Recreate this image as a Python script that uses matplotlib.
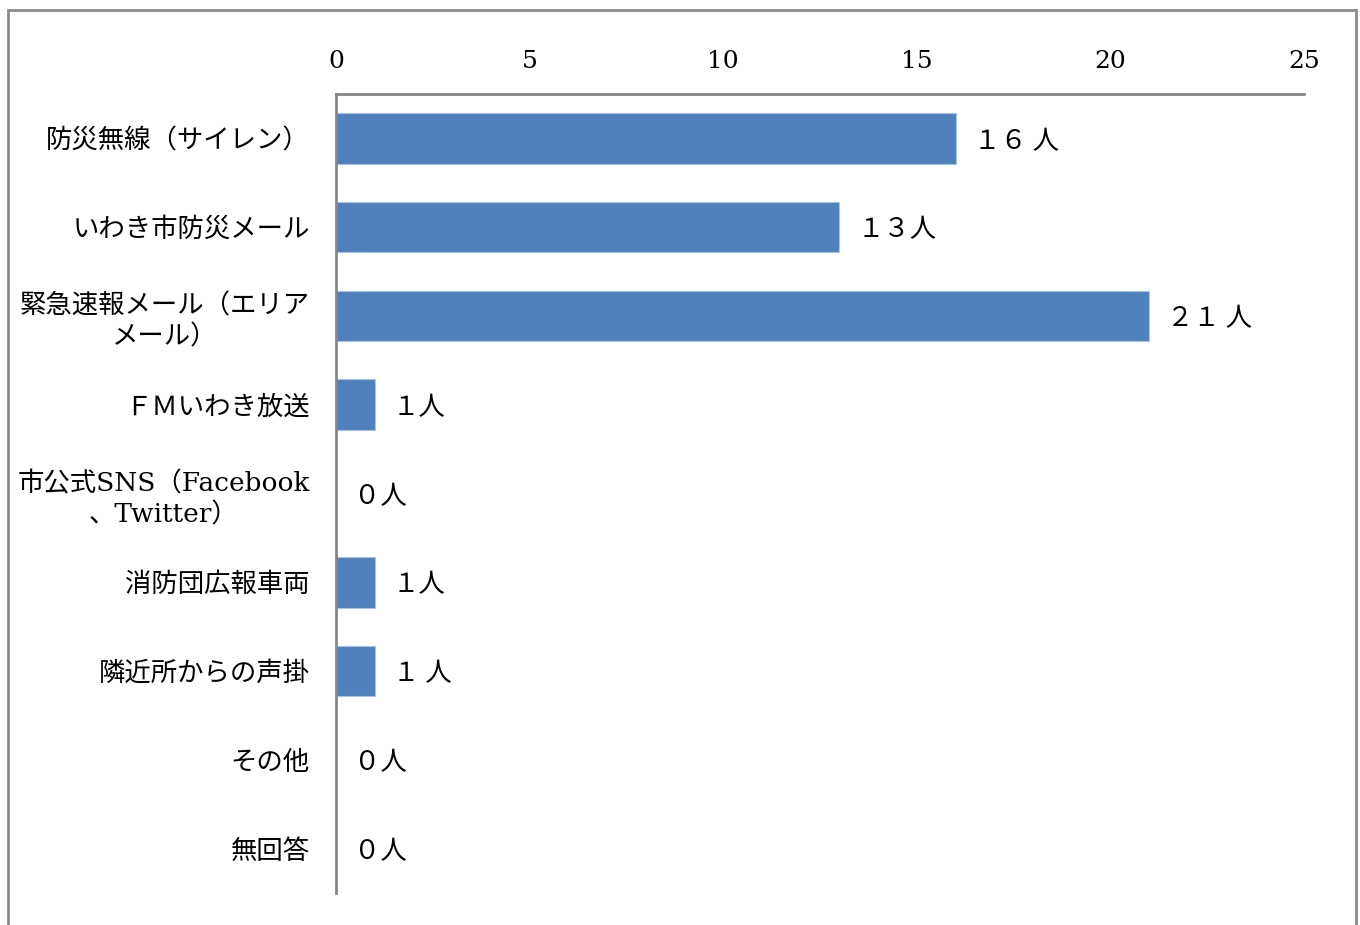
import matplotlib.pyplot as plt
from matplotlib.patches import Rectangle

plt.rcParams['font.family'] = ['DejaVu Serif', 'Noto Sans CJK JP']

# Survey answers: how people received the alert
categories = [
    '防災無線（サイレン）',
    'いわき市防災メール',
    '緊急速報メール（エリア\nメール）',
    'ＦＭいわき放送',
    '市公式SNS（Facebook\n、Twitter）',
    '消防団広報車両',
    '隣近所からの声掛',
    'その他',
    '無回答',
]
counts = [16, 13, 21, 1, 0, 1, 1, 0, 0]
count_labels = ['１６ 人', '１３人', '２１ 人', '１人', '０人', '１人', '１ 人', '０人', '０人']
x_ticks = [0, 5, 10, 15, 20, 25]

fig = plt.figure(figsize=(13.6, 9.25), dpi=100)
ax = fig.add_axes([0.2471, 0.0346, 0.7117, 0.8638])

# outer frame around the whole chart (runs off the bottom edge)
fig.patches.append(Rectangle((8 / 1360, -0.02), 1348 / 1360, 0.02 + 915 / 925,
                             transform=fig.transFigure, fill=False,
                             edgecolor='#8c8c8c', linewidth=2))

y = list(range(len(categories)))
ax.barh(y, counts, height=0.57, color='#4F81BD', edgecolor='#A9C2E0', linewidth=0.8)

for yi, v, lab in zip(y, counts, count_labels):
    ax.annotate(lab, xy=(v, yi), xytext=(13, -2), textcoords='offset points',
                ha='left', va='center', fontsize=19, family=['Noto Sans CJK JP'])

ax.set_xlim(0, 25)
ax.set_ylim(len(categories) - 0.5, -0.5)
ax.set_xticks(x_ticks)
ax.xaxis.tick_top()
ax.tick_params(axis='x', length=0, pad=15, labelsize=18)
ax.set_yticks(y)
ax.set_yticklabels(categories, fontsize=19, ha='right', multialignment='center',
                   linespacing=1.3)
ax.tick_params(axis='y', length=0, pad=19)

for side in ('right', 'bottom'):
    ax.spines[side].set_visible(False)
for side in ('left', 'top'):
    ax.spines[side].set_color('#868686')
    ax.spines[side].set_linewidth(2)

fig.savefig('out.png', dpi=100, facecolor='white')
